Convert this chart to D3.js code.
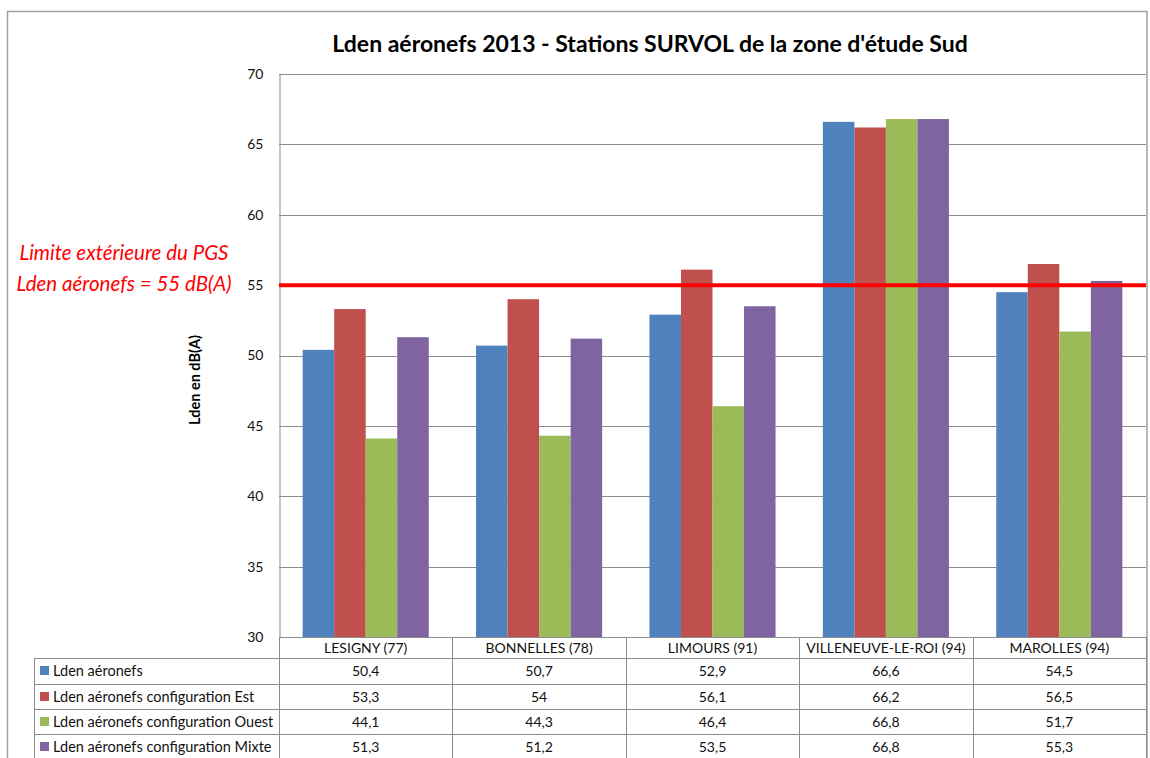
<!DOCTYPE html>
<html>
<head>
<meta charset="utf-8">
<script src="https://cdn.jsdelivr.net/npm/d3@7"></script>
<style>
  html, body { margin: 0; padding: 0; background: #fff; }
  svg { display: block; }
  text { font-family: Lato, "Open Sans", "Liberation Sans", sans-serif; }
</style>
</head>
<body>
<svg id="chart" width="1150" height="758"></svg>
<script>
// Stations (categories)
const stations = ["LESIGNY (77)", "BONNELLES (78)", "LIMOURS (91)", "VILLENEUVE-LE-ROI (94)", "MAROLLES (94)"];

// Series names
const seriesNames = [
  "Lden aéronefs",
  "Lden aéronefs configuration Est",
  "Lden aéronefs configuration Ouest",
  "Lden aéronefs configuration Mixte"
];

// Values per series, in station order (dB(A))
const ldenAll   = [50.4, 50.7, 52.9, 66.6, 54.5];
const ldenEst   = [53.3, 54.0, 56.1, 66.2, 56.5];
const ldenOuest = [44.1, 44.3, 46.4, 66.8, 51.7];
const ldenMixte = [51.3, 51.2, 53.5, 66.8, 55.3];

// Axis ticks and threshold
const yTicks = [30, 35, 40, 45, 50, 55, 60, 65, 70];
const limitValue = 55;

const seriesValues = [ldenAll, ldenEst, ldenOuest, ldenMixte];
const seriesColors = ["#4F81BD", "#C0504D", "#9BBB59", "#8064A2"];

const svg = d3.select("#chart");

// Plot area geometry
const plot = { left: 279, right: 1146, top: 74, bottom: 637 };
const gridColor = "#8c8c8c";

// Outer chart frame
svg.append("rect")
  .attr("x", 7.5).attr("y", 11.5)
  .attr("width", 1139.5).attr("height", 760)
  .attr("fill", "none").attr("stroke", "#a0a0a0").attr("stroke-width", 1.5);

// Title
svg.append("text")
  .attr("x", 650).attr("y", 52)
  .attr("text-anchor", "middle")
  .attr("font-size", 23).attr("font-weight", "bold")
  .attr("fill", "#000")
  .text("Lden aéronefs 2013 - Stations SURVOL de la zone d'étude Sud");

// Scales
const y = d3.scaleLinear().domain([30, 70]).range([plot.bottom, plot.top]);
const x0 = d3.scaleBand().domain(stations).range([plot.left, plot.right]).padding(0);
const bw = x0.bandwidth();
const gap = bw * 1.5 / 5.5;
const x1 = d3.scaleBand().domain(d3.range(seriesNames.length)).range([gap / 2, bw - gap / 2]).padding(0);

// Horizontal gridlines
svg.append("g").selectAll("line")
  .data(yTicks.filter(t => t > 30))
  .join("line")
  .attr("x1", plot.left).attr("x2", plot.right)
  .attr("y1", d => Math.round(y(d)) + 0.5).attr("y2", d => Math.round(y(d)) + 0.5)
  .attr("stroke", gridColor).attr("stroke-width", 1);

// Y axis built with d3 and styled
const yAxis = d3.axisLeft(y).tickValues(yTicks).tickSize(0).tickPadding(16).tickFormat(d3.format("d"));
const gy = svg.append("g").attr("transform", `translate(${plot.left + 0.5},0)`).call(yAxis);
gy.select(".domain").attr("stroke", gridColor);
gy.selectAll("text").attr("font-size", 14).attr("fill", "#111")
  .style("font-family", "Lato, 'Open Sans', sans-serif");

// Y axis title
svg.append("text")
  .attr("transform", `translate(200,380) rotate(-90)`)
  .attr("text-anchor", "middle")
  .attr("font-size", 14.5).attr("font-weight", "bold")
  .text("Lden en dB(A)");

// Bars
const barGroups = svg.append("g").selectAll("g")
  .data(stations)
  .join("g")
  .attr("transform", d => `translate(${x0(d)},0)`);

barGroups.selectAll("rect")
  .data((d, i) => seriesValues.map((vals, s) => ({ s, v: vals[i] })))
  .join("rect")
  .attr("x", d => x1(d.s))
  .attr("width", x1.bandwidth())
  .attr("y", d => y(d.v))
  .attr("height", d => y(30) - y(d.v))
  .attr("fill", d => seriesColors[d.s]);

// Limit line at 55 dB(A)
svg.append("line")
  .attr("x1", plot.left).attr("x2", plot.right)
  .attr("y1", y(limitValue)).attr("y2", y(limitValue))
  .attr("stroke", "#FF0000").attr("stroke-width", 4);

// Limit annotation
const note = svg.append("g")
  .attr("fill", "#FF0000").attr("font-size", 20.5).attr("font-style", "italic")
  .attr("text-anchor", "middle");
note.append("text").attr("x", 124).attr("y", 260).text("Limite extérieure du PGS");
note.append("text").attr("x", 124).attr("y", 291).text("Lden aéronefs = " + limitValue + " dB(A)");

// Data table under the plot
const rowTops = [658, 684, 709, 734, 759];
const tableLeft = 34;
const table = svg.append("g");

// Category header row text
table.selectAll("text.cat")
  .data(stations)
  .join("text")
  .attr("class", "cat")
  .attr("x", d => x0(d) + bw / 2)
  .attr("y", 652.5)
  .attr("text-anchor", "middle")
  .attr("font-size", 14).attr("fill", "#111")
  .text(d => d);

// Horizontal table rules
table.selectAll("line.h")
  .data(rowTops)
  .join("line")
  .attr("class", "h")
  .attr("x1", tableLeft).attr("x2", plot.right)
  .attr("y1", d => d + 0.5).attr("y2", d => d + 0.5)
  .attr("stroke", gridColor);

// Axis baseline across the category header
table.append("line")
  .attr("x1", plot.left).attr("x2", plot.right)
  .attr("y1", plot.bottom + 0.5).attr("y2", plot.bottom + 0.5)
  .attr("stroke", gridColor);

// Vertical table rules
const colEdges = stations.map(s => x0(s)).concat([plot.right]);
table.selectAll("line.v")
  .data(colEdges)
  .join("line")
  .attr("class", "v")
  .attr("x1", d => Math.round(d) + 0.5).attr("x2", d => Math.round(d) + 0.5)
  .attr("y1", plot.bottom).attr("y2", 760)
  .attr("stroke", gridColor);
table.append("line")
  .attr("x1", tableLeft + 0.5).attr("x2", tableLeft + 0.5)
  .attr("y1", rowTops[0]).attr("y2", 760)
  .attr("stroke", gridColor);

// Series rows: legend key, name, values
seriesNames.forEach((name, s) => {
  const top = rowTops[s];
  const mid = top + 12.5;
  table.append("rect")
    .attr("x", 40).attr("y", mid - 4.5)
    .attr("width", 9).attr("height", 9)
    .attr("fill", seriesColors[s]);
  table.append("text")
    .attr("x", 53).attr("y", mid + 5)
    .attr("font-size", 14.5).attr("fill", "#111")
    .text(name);
  table.selectAll(null)
    .data(seriesValues[s])
    .join("text")
    .attr("x", (d, i) => x0(stations[i]) + bw / 2)
    .attr("y", mid + 5)
    .attr("text-anchor", "middle")
    .attr("font-size", 14).attr("fill", "#111")
    .text(d => String(d).replace(".", ","));
});
</script>
</body>
</html>
